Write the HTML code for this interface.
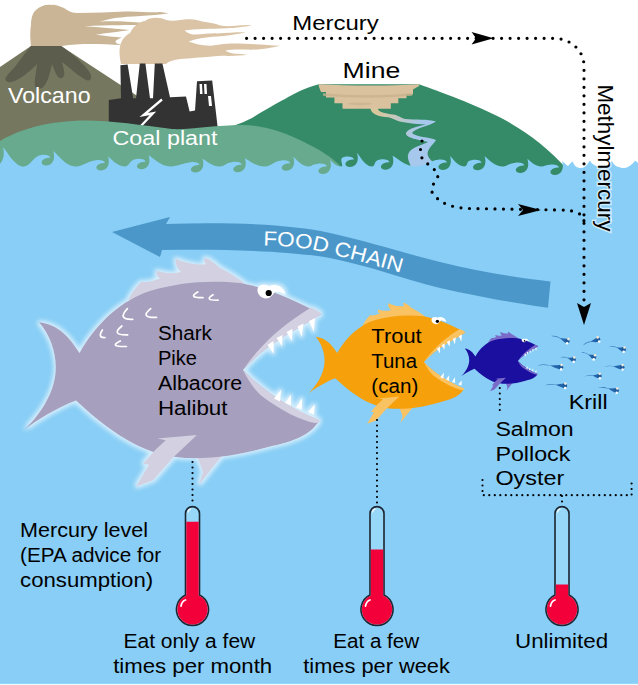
<!DOCTYPE html>
<html><head><meta charset="utf-8"><style>html,body{margin:0;padding:0;background:#fff;}svg{display:block;}</style></head>
<body><svg width="638" height="685" viewBox="0 0 638 685"><defs>
<linearGradient id="sg" gradientUnits="userSpaceOnUse" x1="378" y1="110" x2="420" y2="125"><stop offset="0" stop-color="#D8C79C"/><stop offset="1" stop-color="#A6C8EC"/></linearGradient>
<filter id="glow" x="-10%" y="-10%" width="120%" height="120%"><feMorphology in="SourceAlpha" operator="dilate" radius="1.5" result="d"/><feGaussianBlur in="d" stdDeviation="2" result="b"/><feFlood flood-color="#fff" flood-opacity="0.65"/><feComposite in2="b" operator="in" result="g"/><feMerge><feMergeNode in="g"/><feMergeNode in="SourceGraphic"/></feMerge></filter>
<filter id="glow2" x="-10%" y="-10%" width="120%" height="120%"><feMorphology in="SourceAlpha" operator="dilate" radius="2" result="d"/><feGaussianBlur in="d" stdDeviation="3" result="b"/><feFlood flood-color="#fff" flood-opacity="0.6"/><feComposite in2="b" operator="in" result="g"/><feMerge><feMergeNode in="g"/><feMergeNode in="SourceGraphic"/></feMerge></filter>
</defs><rect width="638" height="685" fill="#fff"/><path fill="#CAB697" d="M31 46 C30 38 30 30 31 25 C31 18 33 12 36 10 C40 6 46 4 52 5 C56 4 60 7 64 8 C68 11 72 13 78 13 C95 13 110 12 125 11.5 C140 11 150 13 160 12 L169 13.2 C150 16 130 16 115 18 C108 19 103 21 99.5 21.6 C110 21 125 21 145 23 L145 25 C130 25 110 25 84.5 26.3 C100 27 115 29 129.6 30 C118 32 105 33 95.7 34.8 C105 36 115 37 122 37.6 C115 40 112 43 122 45 C100 44 80 43 62 46 Z"/>
<path fill="#76775F" d="M0 67 L31 46 L61 46 L200 137 L200 175 L0 175 Z"/>
<path fill="#5D5D4E" d="M31 46 L61 46 C70 52 80 60 88 70 C93 76 92 82 86 80 C78 76 70 68 62 62 C64 70 66 76 62 78 C58 80 55 72 52 64 C50 74 46 90 38 89 C32 88 36 76 37 64 C30 72 14 84 8 82 C2 80 8 74 14 68 C20 60 26 52 31 46 Z"/>
<path fill="#DAC4A5" d="M121 64 C119 55 119 48 121 43 C123 38 126 35 130 33 C133 27 138 22 145 21 C150 17 160 17 166 20 C175 22 180 19 190.6 19.2 C198 19.5 202 22 207 22.2 C215 23 220 26 227 26.3 C235 26.5 245 24.5 251.7 25.3 C245 27 235 28 227 28.3 C210 29 195 29 184.5 30.4 C188 33 190 34 192.6 34.4 C200 35 210 33 217 33.4 C228 33 238 32 245.6 32.4 C238 34 225 36 217 36.5 C205 37 195 39 188.5 41.6 C195 44 203 46 211 45.7 C218 45 225 43.6 231.3 43.6 C250 43.6 265 45 280.2 45.7 C270 48 260 49.7 251.7 49.7 C242 49.7 233 49 225.2 50.7 C230 53 234 53.8 237.4 53.8 C242 54 245 54.5 247.6 54.8 C240 56 230 56 221 55.8 C205 57 190 58.5 180 59 C172 60 168 62 166 64 Z"/>
<path fill="#333333" d="M108.8 100.1 L121 98.3 L120.4 65.3 L127.6 64.4 L133.2 98.3 L136 98.3 L139.8 63.5 L145.4 63.5 L150 98.3 L153 98.3 L154.8 63.5 L162.4 63.5 L170 97.3 L186 96.4 L189.6 111.4 L195 110.5 L197 81.3 L212.2 80.4 L217.8 128.4 L217.8 140 L108.8 140 Z"/>
<g fill="#fff"><path d="M199.5 84 L202 84 L202.5 94 L200 94 Z"/><path d="M204 84 L206.5 84 L207 94 L204.5 94 Z"/><path d="M208 96 L211 96 L212 106 L209 106 Z"/>
</g><path fill="none" stroke="#fff" stroke-width="2.3" stroke-linejoin="miter" d="M162 99.5 L143.5 115 L153 113.3 L139.5 127.5"/>
<path fill="#358B68" d="M200 178 L214 132 C228 128 240 124 252 118 C265 110 275 104 285 99 C295 93 305 88 318.8 84.3 L419 84.3 C440 92 475 104 505 120 C530 134 550 150 566 168 L566 175 Z"/>
<path fill="#DBC29F" d="M318.5 84.3 C350 86 390 86 419.5 84.3 L419 86 L413 89.5 L413 94.4 L406.5 94.4 L406.5 98.2 L398.3 98.2 L398.3 103.2 L390.8 103.2 L390.8 108.8 L342.5 108.8 L342.5 103.2 L334.4 103.2 L334.4 97.5 L326 97.5 L326 92 L321 92 L319 87 Z"/>
<path fill="none" stroke="#C8B18D" stroke-width="2.5" opacity="0.8" d="M323 94.5 C350 97 385 97 412 94.5"/>
<ellipse cx="360" cy="103.8" rx="12" ry="1.4" fill="#C8B18D" opacity="0.7"/>
<path fill="url(#sg)" d="M377.7 107.8 C378 112 382 113 393 114.5 C398 115 401 118 405 119 C415 120 428 119 436 121.5 C430 126 415 128 412 133 C415 137 430 137 436 140 C432 146 426 150 428 156 C430 160 434 163 440 170 L412 170 C410 162 405 157 410 151 C415 146 425 144 428 142 C420 140 405 138 406 133 C408 128 420 126 426 124.5 C415 124 405 123 398 121 C393 119 390 117 385 117 C375 116 370 112 370.6 107.8 Z"/>
<path fill="#67AA8D" d="M0 141 C15 132 40 122 80 120.5 C110 120 140 125 172 129 C190 130 215 125 242 125 C262 125 285 132 305 142.6 C318 149 328 155 336 162 C342 167 346 172 350 178 L0 178 Z"/>
<path fill="#88CEF6" d="M0 685 L-50 685 L-50 150 C-42.6 151.0 -34.4 166.5 -25.3 166.5 C-18.6 166.0 -17.0 152.1 -9.0 151.1 C-4.0 150.6 -0.5 151.6 0.0 153.9 C-1.5 153.9 -5.0 153.9 -6.5 155.4 C-10.0 161.5 -9.0 165.5 -4.0 165.5 C2.0 165.5 5.5 155.4 3.0 147.4 C5.5 148.4 14.1 166.5 23.6 166.5 C30.7 166.0 33.3 156.0 41.3 155.0 C46.3 154.5 49.8 155.5 50.3 157.8 C48.8 157.8 45.3 157.8 43.8 159.3 C40.3 161.5 41.3 165.5 46.3 165.5 C52.3 165.5 55.8 159.3 53.3 151.3 C56.0 152.3 65.3 166.5 75.7 166.5 C83.4 166.0 88.0 161.2 96.0 160.2 C101.0 159.7 104.5 160.7 105.0 163.0 C103.5 163.0 100.0 163.0 98.5 164.5 C95.0 166.5 96.0 170.5 101.0 170.5 C107.0 170.5 110.5 164.5 108.0 156.5 C110.0 157.5 116.9 166.5 124.6 166.5 C130.3 166.0 128.6 159.9 136.6 158.9 C141.6 158.4 145.1 159.4 145.6 161.7 C144.1 161.7 140.6 161.7 139.1 163.2 C135.6 165.2 136.6 169.2 141.6 169.2 C147.6 169.2 151.1 163.2 148.6 155.2 C151.3 156.2 160.5 166.5 170.7 166.5 C178.2 166.0 182.5 163.2 190.5 162.2 C195.5 161.7 199.0 162.7 199.5 165.0 C198.0 165.0 194.5 165.0 193.0 166.5 C189.5 168.5 190.5 172.5 195.5 172.5 C201.5 172.5 205.0 166.5 202.5 158.5 C204.6 159.5 211.8 166.5 219.9 166.5 C225.8 166.0 224.9 163.0 232.9 162.0 C237.9 161.5 241.4 162.5 241.9 164.8 C240.4 164.8 236.9 164.8 235.4 166.3 C231.9 168.3 232.9 172.3 237.9 172.3 C243.9 172.3 247.4 166.3 244.9 158.3 C247.3 159.3 255.5 166.5 264.7 166.5 C271.5 166.0 273.3 161.5 281.3 160.5 C286.3 160.0 289.8 161.0 290.3 163.3 C288.8 163.3 285.3 163.3 283.8 164.8 C280.3 166.8 281.3 170.8 286.3 170.8 C292.3 170.8 295.8 164.8 293.3 156.8 C295.1 157.8 301.4 166.5 308.3 166.5 C313.5 166.0 310.0 164.7 318.0 163.7 C323.0 163.2 326.5 164.2 327.0 166.5 C325.5 166.5 322.0 166.5 320.5 168.0 C317.0 170.0 318.0 174.0 323.0 174.0 C329.0 174.0 332.5 168.0 330.0 160.0 C331.4 161.0 335.9 166.5 341.1 166.5 C344.9 166.0 337.0 157.7 345.0 156.7 C350.0 156.2 353.5 157.2 354.0 159.5 C352.5 159.5 349.0 159.5 347.5 161.0 C344.0 163.0 345.0 167.0 350.0 167.0 C356.0 167.0 359.5 161.0 357.0 153.0 C358.8 154.0 364.8 166.5 371.6 166.5 C376.5 166.0 372.5 160.4 380.5 159.4 C385.5 158.9 389.0 159.9 389.5 162.2 C388.0 162.2 384.5 162.2 383.0 163.7 C379.5 165.7 380.5 169.7 385.5 169.7 C391.5 169.7 395.0 163.7 392.5 155.7 C395.4 156.7 405.1 166.5 416.1 166.5 C424.1 166.0 430.0 160.7 438.0 159.7 C443.0 159.2 446.5 160.2 447.0 162.5 C445.5 162.5 442.0 162.5 440.5 164.0 C437.0 166.0 438.0 170.0 443.0 170.0 C449.0 170.0 452.5 164.0 450.0 156.0 C451.7 157.0 457.6 166.5 464.2 166.5 C469.0 166.0 464.6 161.0 472.6 160.0 C477.6 159.5 481.1 160.5 481.6 162.8 C480.1 162.8 476.6 162.8 475.1 164.3 C471.6 166.3 472.6 170.3 477.6 170.3 C483.6 170.3 487.1 164.3 484.6 156.3 C486.7 157.3 494.0 166.5 502.1 166.5 C508.1 166.0 507.4 163.7 515.4 162.7 C520.4 162.2 523.9 163.2 524.4 165.5 C522.9 165.5 519.4 165.5 517.9 167.0 C514.4 169.0 515.4 173.0 520.4 173.0 C526.4 173.0 529.9 167.0 527.4 159.0 C529.1 160.0 535.0 166.5 541.6 166.5 C546.4 166.0 542.0 165.7 550.0 164.7 C555.0 164.2 558.5 165.2 559.0 167.5 C557.5 167.5 554.0 167.5 552.5 169.0 C549.0 171.0 550.0 175.0 555.0 175.0 C561.0 175.0 564.5 169.0 562.0 161.0 C565 163 566 165 568 166 C570 164 571 162 572.8 161.5 C574 166 577 168 581 168 C586 168 588 163 590 160.5 C592 165 597 167 602 166.5 C607 166 610 163 612 161 C614 166 619 168 624 168 C629 168 633 163 635.5 160.5 C637 163 640 165 650 166 L650 685 Z"/>
<path fill="none" stroke="#000" stroke-width="3.2" stroke-linecap="round" stroke-dasharray="0 8.5" d="M246.6 38.3 L554 38.3 C570 38.3 584 50 584 66 L584 305"/>
<path fill="#000" d="M471.6 32 L493.6 38.3 L471.6 44.4 L476 38.3 Z"/>
<path fill="#000" d="M577 303 L584 325 L591 303 L584 307 Z"/>
<path fill="none" stroke="#000" stroke-width="3.2" stroke-linecap="round" stroke-dasharray="0 8.5" d="M422 141 C420 148 420 154 422 158 C428 166 438 170 438 176 C436 182 430 186 432 192 C440 205 455 208 470 208.5 L560 210 C576 210 584 214 584 222"/>
<path fill="#000" d="M518 204 L541 210 L518 216 L523 210 Z"/>
<path fill="#4B97C9" d="M112 232 L170 217 L166 224 C230 222 290 224 330 233 C370 242 400 252 440 262 C480 272 520 278 550.5 281.4 L548 307.7 C520 304 480 297 440 288 C400 278 370 266 330 258 C290 251 230 249 162 250 L160 257 Z"/>
<path id="fc" fill="none" d="M263 245.5 C290 246 310 248 330 254 C370 263 400 273 430 281"/>
<text font-family="Liberation Sans, sans-serif" font-size="20.5" fill="#fff"><textPath href="#fc" textLength="141" lengthAdjust="spacingAndGlyphs">FOOD CHAIN</textPath></text>
<g filter="url(#glow)"><path fill="#D3D0E1" d="M128 300 Q134 289 141.5 281.8 Q148 283 160.1 278.5 Q155 276 156.8 270.8 Q168 275 181 272 Q175 266 175.5 258.8 Q192 266 206.2 264.3 Q203 261 205 257.7 Q213 261 219.4 267.6 Q230 273 241.3 280.7 L252 290 Z"/>
<path fill="#D3D0E1" d="M195 450 L222 450 L221 457 L199 484.5 L203 472 Z"/>
<path fill="#A69FBE" d="M79.5 353 C70 338 58 324 39 322.3 C51 336 57 355 55.5 372.6 C54 392 42 413 24.7 429.5 C36 421 56 408 76 400.6 C118 440 150 456 185 458 C215 459 240 455 272 446 C300 440 312 432 318.5 421.4 C290 408 262 390 243 370 C268 342 300 328 321.5 314 C300 303 270 288 240 283 C205 280 178 283 150 291 C122 300 97 322 79.5 353 Z"/>
<path fill="#D3D0E1" d="M157.3 438.5 L165.8 440.2 L155.9 449.3 L143.2 463.4 L148.9 464.8 L136.2 486.5 L153.1 480.3 L172.9 457.7 L196.9 435.1 Z"/>
<path fill="#D3D0E1" d="M311 307.5 C316 310 320 312 321.5 314 C300 328 268 342 243 370 C252 357 264 343 277 332 C289 322 300 314 311 307.5 Z"/>
<path fill="#D3D0E1" d="M243 370 C262 390 290 408 318.3 419.4 C321 421 319 423.5 315 423 C300 420 280 410 261 395.4 C254 389 248 380 243 370 Z"/>
<g fill="#fff"><path d="M309 321 L315 318 L313.8 331.8 Z M297.5 326.5 L303.5 323.5 L301.7 336.8 Z M286.5 332 L292.5 329 L291.8 341.1 Z M276.5 338 L282.5 335 L282 346 Z M267.5 345 L273.5 341 L273.7 353.8 Z"/>
<path d="M274 398.5 L280 401.5 L281 389.7 Z M285 403 L291 405.5 L290.8 394.7 Z M296 407.5 L302 409.5 L302 398.2 Z M308 412 L314 414.5 L314.8 404.6 Z"/></g>
<path fill="#fff" d="M257.5 291 C257 286 261 284.5 265 284.8 C267 285 268.5 286 269.5 286 C272 284.5 277 284.5 280 286.5 C283 288.5 285 291 285.5 294.5 C282 292.5 278 291.5 275 291.5 C273 295 270 298.5 266 298.5 C261.5 298.3 258 295 257.5 291 Z"/>
<circle cx="268.7" cy="293" r="3.1" fill="#000"/><g fill="none" stroke="#fff" stroke-width="1.7" stroke-linecap="round">
<path d="M127.4 308.6 Q116.8 320.0 132.7 319.3 M150.7 308.6 Q139.2 317.9 156.5 317.3 M121.9 326.0 Q110.2 335.4 127.7 334.8 M102.4 330.0 Q97.2 338.0 105.0 337.5 M120.3 341.0 Q108.0 346.9 126.4 346.5 M197.8 292.0 Q187.2 298.0 203.0 297.6 M213.1 294.8 Q203.3 300.6 218.0 300.2 "/></g></g>
<g transform="translate(295 166) scale(0.53)"><path fill="#F9C263" d="M128 300 Q134 289 141.5 281.8 Q148 283 160.1 278.5 Q155 276 156.8 270.8 Q168 275 181 272 Q175 266 175.5 258.8 Q192 266 206.2 264.3 Q203 261 205 257.7 Q213 261 219.4 267.6 Q230 273 241.3 280.7 L252 290 Z"/>
<path fill="#F9C263" d="M195 450 L222 450 L221 457 L199 484.5 L203 472 Z"/>
<path fill="#F6A00B" d="M79.5 353 C70 338 58 324 39 322.3 C51 336 57 355 55.5 372.6 C54 392 42 413 24.7 429.5 C36 421 56 408 76 400.6 C118 440 150 456 185 458 C215 459 240 455 272 446 C300 440 312 432 318.5 421.4 C290 408 262 390 243 370 C268 342 300 328 321.5 314 C300 303 270 288 240 283 C205 280 178 283 150 291 C122 300 97 322 79.5 353 Z"/>
<path fill="#F9C263" d="M157.3 438.5 L165.8 440.2 L155.9 449.3 L143.2 463.4 L148.9 464.8 L136.2 486.5 L153.1 480.3 L172.9 457.7 L196.9 435.1 Z"/>
<path fill="#F9C263" d="M311 307.5 C316 310 320 312 321.5 314 C300 328 268 342 243 370 C252 357 264 343 277 332 C289 322 300 314 311 307.5 Z"/>
<path fill="#F9C263" d="M243 370 C262 390 290 408 318.3 419.4 C321 421 319 423.5 315 423 C300 420 280 410 261 395.4 C254 389 248 380 243 370 Z"/>
<g fill="#fff"><path d="M309 321 L315 318 L313.8 331.8 Z M297.5 326.5 L303.5 323.5 L301.7 336.8 Z M286.5 332 L292.5 329 L291.8 341.1 Z M276.5 338 L282.5 335 L282 346 Z M267.5 345 L273.5 341 L273.7 353.8 Z"/>
<path d="M274 398.5 L280 401.5 L281 389.7 Z M285 403 L291 405.5 L290.8 394.7 Z M296 407.5 L302 409.5 L302 398.2 Z M308 412 L314 414.5 L314.8 404.6 Z"/></g>
<path fill="#fff" d="M257.5 291 C257 286 261 284.5 265 284.8 C267 285 268.5 286 269.5 286 C272 284.5 277 284.5 280 286.5 C283 288.5 285 291 285.5 294.5 C282 292.5 278 291.5 275 291.5 C273 295 270 298.5 266 298.5 C261.5 298.3 258 295 257.5 291 Z"/>
<circle cx="268.7" cy="293" r="3.1" fill="#000"/></g>
<g transform="translate(454.7 264.7) scale(0.26)"><path fill="#7A6BC9" d="M128 300 Q134 289 141.5 281.8 Q148 283 160.1 278.5 Q155 276 156.8 270.8 Q168 275 181 272 Q175 266 175.5 258.8 Q192 266 206.2 264.3 Q203 261 205 257.7 Q213 261 219.4 267.6 Q230 273 241.3 280.7 L252 290 Z"/>
<path fill="#7A6BC9" d="M195 450 L222 450 L221 457 L199 484.5 L203 472 Z"/>
<path fill="#1B0FA0" d="M79.5 353 C70 338 58 324 39 322.3 C51 336 57 355 55.5 372.6 C54 392 42 413 24.7 429.5 C36 421 56 408 76 400.6 C118 440 150 456 185 458 C215 459 240 455 272 446 C300 440 312 432 318.5 421.4 C290 408 262 390 243 370 C268 342 300 328 321.5 314 C300 303 270 288 240 283 C205 280 178 283 150 291 C122 300 97 322 79.5 353 Z"/>
<path fill="#7A6BC9" d="M157.3 438.5 L165.8 440.2 L155.9 449.3 L143.2 463.4 L148.9 464.8 L136.2 486.5 L153.1 480.3 L172.9 457.7 L196.9 435.1 Z"/>
<path fill="#7A6BC9" d="M311 307.5 C316 310 320 312 321.5 314 C300 328 268 342 243 370 C252 357 264 343 277 332 C289 322 300 314 311 307.5 Z"/>
<path fill="#7A6BC9" d="M243 370 C262 390 290 408 318.3 419.4 C321 421 319 423.5 315 423 C300 420 280 410 261 395.4 C254 389 248 380 243 370 Z"/>
<g fill="#fff"><path d="M309 321 L315 318 L313.8 331.8 Z M297.5 326.5 L303.5 323.5 L301.7 336.8 Z M286.5 332 L292.5 329 L291.8 341.1 Z M276.5 338 L282.5 335 L282 346 Z M267.5 345 L273.5 341 L273.7 353.8 Z"/>
<path d="M274 398.5 L280 401.5 L281 389.7 Z M285 403 L291 405.5 L290.8 394.7 Z M296 407.5 L302 409.5 L302 398.2 Z M308 412 L314 414.5 L314.8 404.6 Z"/></g>
<path fill="#fff" d="M257.5 291 C257 286 261 284.5 265 284.8 C267 285 268.5 286 269.5 286 C272 284.5 277 284.5 280 286.5 C283 288.5 285 291 285.5 294.5 C282 292.5 278 291.5 275 291.5 C273 295 270 298.5 266 298.5 C261.5 298.3 258 295 257.5 291 Z"/>
<circle cx="268.7" cy="293" r="3.1" fill="#000"/></g>
<path fill="#2466AC" d="M550.7 336.0 Q556.6 335.9 560.7 338.7 Q563.6 342.0 566.3 343.1 Q569.6 341.8 567.5 338.8 Q563.8 338.3 560.0 337.9 Q555.9 335.1 550.7 336.0 Z"/><circle cx="567.3" cy="341.1" r="2.4" fill="#1E5C9E"/><circle cx="567.1" cy="343.3" r="1.3" fill="#fff"/><circle cx="568.4" cy="339.1" r="1.3" fill="#f4e8d8"/><path fill="#2466AC" d="M582.8 345.4 Q587.1 341.8 591.8 341.7 Q595.9 342.5 598.4 341.8 Q600.1 338.8 596.9 337.7 Q593.8 339.5 590.7 341.4 Q586.1 341.6 582.8 345.4 Z"/><circle cx="597.9" cy="339.6" r="2.4" fill="#1E5C9E"/><circle cx="599.2" cy="341.5" r="1.3" fill="#fff"/><circle cx="597.6" cy="337.4" r="1.3" fill="#f4e8d8"/><path fill="#2466AC" d="M608.7 347.0 Q613.9 346.1 617.8 348.2 Q620.7 351.1 623.1 351.7 Q625.9 349.9 623.8 347.4 Q620.4 347.4 617.1 347.5 Q613.2 345.3 608.7 347.0 Z"/><circle cx="623.6" cy="349.5" r="2.4" fill="#1E5C9E"/><circle cx="623.7" cy="351.8" r="1.3" fill="#fff"/><circle cx="624.5" cy="347.5" r="1.3" fill="#f4e8d8"/><path fill="#2466AC" d="M581.2 352.9 Q586.0 352.6 589.0 355.2 Q591.1 358.3 593.2 359.2 Q596.0 357.8 594.6 355.0 Q591.6 354.7 588.5 354.4 Q585.5 351.8 581.2 352.9 Z"/><circle cx="593.9" cy="357.1" r="2.4" fill="#1E5C9E"/><circle cx="593.7" cy="359.4" r="1.3" fill="#fff"/><circle cx="595.0" cy="355.2" r="1.3" fill="#f4e8d8"/><path fill="#2466AC" d="M560.0 357.6 Q564.8 356.5 568.3 358.5 Q571.0 361.2 573.2 361.8 Q575.8 359.9 573.8 357.4 Q570.7 357.6 567.6 357.8 Q564.1 355.8 560.0 357.6 Z"/><circle cx="573.5" cy="359.6" r="2.4" fill="#1E5C9E"/><circle cx="573.7" cy="361.8" r="1.3" fill="#fff"/><circle cx="574.3" cy="357.5" r="1.3" fill="#f4e8d8"/><path fill="#2466AC" d="M537.4 365.4 Q545.0 364.2 551.2 366.1 Q556.0 368.8 559.7 369.3 Q563.6 367.4 560.1 364.9 Q555.0 365.1 550.0 365.5 Q543.8 363.5 537.4 365.4 Z"/><circle cx="560.9" cy="367.2" r="2.4" fill="#1E5C9E"/><circle cx="561.2" cy="369.4" r="1.3" fill="#fff"/><circle cx="561.6" cy="365.0" r="1.3" fill="#f4e8d8"/><path fill="#2466AC" d="M604.0 367.0 Q609.9 365.3 614.8 366.9 Q618.7 369.2 621.6 369.5 Q624.6 367.3 621.7 365.1 Q617.7 365.6 613.8 366.3 Q608.9 364.7 604.0 367.0 Z"/><circle cx="622.1" cy="367.3" r="2.4" fill="#1E5C9E"/><circle cx="622.6" cy="369.5" r="1.3" fill="#fff"/><circle cx="622.6" cy="365.1" r="1.3" fill="#f4e8d8"/><path fill="#2466AC" d="M584.4 376.7 Q589.2 374.7 593.4 376.0 Q596.8 378.2 599.3 378.3 Q601.6 376.0 599.1 373.9 Q595.8 374.6 592.6 375.5 Q588.4 374.1 584.4 376.7 Z"/><circle cx="599.3" cy="376.1" r="2.4" fill="#1E5C9E"/><circle cx="599.9" cy="378.2" r="1.3" fill="#fff"/><circle cx="599.7" cy="373.8" r="1.3" fill="#f4e8d8"/><path fill="#2466AC" d="M545.2 385.3 Q551.6 383.7 556.8 385.3 Q561.0 387.7 564.1 387.9 Q567.4 385.8 564.2 383.6 Q560.0 384.1 555.8 384.7 Q550.5 383.0 545.2 385.3 Z"/><circle cx="564.8" cy="385.8" r="2.4" fill="#1E5C9E"/><circle cx="565.2" cy="388.0" r="1.3" fill="#fff"/><circle cx="565.4" cy="383.6" r="1.3" fill="#f4e8d8"/><path fill="#2466AC" d="M597.7 387.7 Q604.1 386.9 608.9 389.1 Q612.6 392.0 615.6 392.7 Q619.0 391.0 616.3 388.3 Q612.2 388.3 608.0 388.4 Q603.1 386.1 597.7 387.7 Z"/><circle cx="616.5" cy="390.6" r="2.4" fill="#1E5C9E"/><circle cx="616.7" cy="392.8" r="1.3" fill="#fff"/><circle cx="617.3" cy="388.5" r="1.3" fill="#f4e8d8"/>
<path fill="none" stroke="#000" stroke-width="2.2" stroke-linecap="round" stroke-dasharray="0 5.5" d="M192.5 462 L192.5 504 M377 420 L377 504 M499.8 388 L499.8 412 M482.5 480 L482.5 495.2 L631.6 495.2 L631.6 480 M562 496 L562 503"/>
<g>
<path fill="#97D7F8" stroke="#1b2530" stroke-width="1.6" d="M185.5 595 L185.5 513.6 A7 7 0 0 1 199.5 513.6 L199.5 595 A16 16 0 1 1 185.5 595 Z"/>
<path fill="#F3003A" d="M186.3 521.7 L198.7 521.7 L198.7 595.5 A15.2 15.2 0 1 1 186.3 595.5 Z"/>
<path fill="none" stroke="#fff" stroke-width="1.8" stroke-linecap="round" d="M181.0 606 Q182.0 601 185.5 600"/>
<path fill="none" stroke="#fff" stroke-width="1.5" stroke-linecap="round" opacity="0.85" d="M188.0 512 Q188.5 509.5 190.5 509"/>
</g>
<g>
<path fill="#97D7F8" stroke="#1b2530" stroke-width="1.6" d="M370 595 L370 513.6 A7 7 0 0 1 384 513.6 L384 595 A16 16 0 1 1 370 595 Z"/>
<path fill="#F3003A" d="M370.8 549.4 L383.2 549.4 L383.2 595.5 A15.2 15.2 0 1 1 370.8 595.5 Z"/>
<path fill="none" stroke="#fff" stroke-width="1.8" stroke-linecap="round" d="M365.5 606 Q366.5 601 370 600"/>
<path fill="none" stroke="#fff" stroke-width="1.5" stroke-linecap="round" opacity="0.85" d="M372.5 512 Q373 509.5 375 509"/>
</g>
<g>
<path fill="#97D7F8" stroke="#1b2530" stroke-width="1.6" d="M555 595 L555 513.6 A7 7 0 0 1 569 513.6 L569 595 A16 16 0 1 1 555 595 Z"/>
<path fill="#F3003A" d="M555.8 584.6 L568.2 584.6 L568.2 595.5 A15.2 15.2 0 1 1 555.8 595.5 Z"/>
<path fill="none" stroke="#fff" stroke-width="1.8" stroke-linecap="round" d="M550.5 606 Q551.5 601 555 600"/>
<path fill="none" stroke="#fff" stroke-width="1.5" stroke-linecap="round" opacity="0.85" d="M557.5 512 Q558 509.5 560 509"/>
</g>
<g font-family="Liberation Sans, sans-serif"><text x="292.2" y="30.4" font-size="21" fill="#000" textLength="86.5" lengthAdjust="spacingAndGlyphs">Mercury</text><text x="342.6" y="77.6" font-size="22" fill="#000" textLength="57.7" lengthAdjust="spacingAndGlyphs">Mine</text><text x="8" y="103" font-size="21.5" fill="#fff" textLength="82.6" lengthAdjust="spacingAndGlyphs">Volcano</text><text x="112.5" y="145.3" font-size="20" fill="#fff" textLength="105" lengthAdjust="spacingAndGlyphs">Coal plant</text><text x="157.9" y="340.3" font-size="19.6" fill="#000" textLength="54" lengthAdjust="spacingAndGlyphs">Shark</text><text x="157.9" y="365.15000000000003" font-size="19.6" fill="#000" textLength="39" lengthAdjust="spacingAndGlyphs">Pike</text><text x="157.9" y="390.0" font-size="19.6" fill="#000" textLength="84.3" lengthAdjust="spacingAndGlyphs">Albacore</text><text x="157.9" y="414.85" font-size="19.6" fill="#000" textLength="69.6" lengthAdjust="spacingAndGlyphs">Halibut</text><text x="371.3" y="342.8" font-size="19.6" fill="#000" textLength="50.4" lengthAdjust="spacingAndGlyphs">Trout</text><text x="371.3" y="367.65000000000003" font-size="19.6" fill="#000" textLength="45.7" lengthAdjust="spacingAndGlyphs">Tuna</text><text x="371.3" y="392.5" font-size="19.6" fill="#000" textLength="47" lengthAdjust="spacingAndGlyphs">(can)</text><text x="568.7" y="409" font-size="19.6" fill="#000" textLength="38.9" lengthAdjust="spacingAndGlyphs">Krill</text><text x="495.4" y="435.7" font-size="19.6" fill="#000" textLength="78.3" lengthAdjust="spacingAndGlyphs">Salmon</text><text x="495.4" y="460.55" font-size="19.6" fill="#000" textLength="75" lengthAdjust="spacingAndGlyphs">Pollock</text><text x="495.4" y="485.4" font-size="19.6" fill="#000" textLength="68.8" lengthAdjust="spacingAndGlyphs">Oyster</text><text x="20.1" y="536.8" font-size="19.6" fill="#000" textLength="128" lengthAdjust="spacingAndGlyphs">Mercury level</text><text x="20.1" y="561.65" font-size="19.6" fill="#000" textLength="141" lengthAdjust="spacingAndGlyphs">(EPA advice for</text><text x="20.1" y="586.5" font-size="19.6" fill="#000" textLength="133" lengthAdjust="spacingAndGlyphs">consumption)</text><text x="123.5" y="647.6" font-size="19.6" fill="#000" textLength="131.7" lengthAdjust="spacingAndGlyphs">Eat only a few</text><text x="113.2" y="672.7" font-size="19.6" fill="#000" textLength="159" lengthAdjust="spacingAndGlyphs">times per month</text><text x="333.2" y="647.6" font-size="19.6" fill="#000" textLength="86" lengthAdjust="spacingAndGlyphs">Eat a few</text><text x="303.3" y="673" font-size="19.6" fill="#000" textLength="146.6" lengthAdjust="spacingAndGlyphs">times per week</text><text x="515" y="648" font-size="19.6" fill="#000" textLength="93.1" lengthAdjust="spacingAndGlyphs">Unlimited</text><text transform="translate(597.8 84.4) rotate(90)" font-size="21.5" fill="#000" textLength="147" lengthAdjust="spacingAndGlyphs" stroke="#fff" stroke-width="3" stroke-opacity="0.6" paint-order="stroke">Methylmercury</text></g><rect x="0" y="683" width="638" height="1" fill="#8FD9F9"/><rect x="0" y="684" width="638" height="1" fill="#F0F8FC"/></svg></body></html>
